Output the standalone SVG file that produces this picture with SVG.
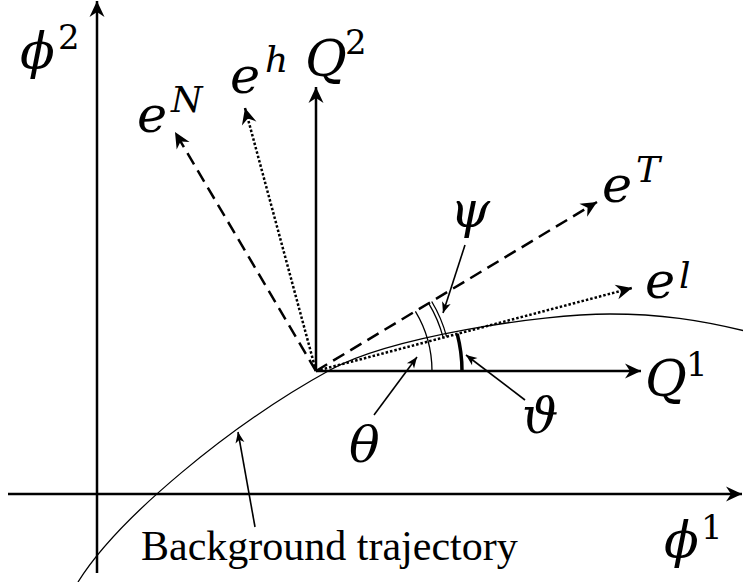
<svg xmlns="http://www.w3.org/2000/svg" width="743" height="582" viewBox="0 0 743 582">
<style>
.ax{fill:none;stroke:#000;stroke-width:2.5}
.dash{fill:none;stroke:#000;stroke-width:2.5;stroke-dasharray:13 7}
.dot{fill:none;stroke:#000;stroke-width:2.5;stroke-dasharray:2.5 2}
.thin{fill:none;stroke:#000;stroke-width:1.3}
.ptr{fill:none;stroke:#000;stroke-width:1.6}
.m{font-family:"DejaVu Serif",serif;font-style:italic;font-size:51px;fill:#000}
.s{font-family:"DejaVu Serif",serif;font-style:italic;font-size:36px;fill:#000}
.d{font-family:"DejaVu Serif",serif;font-size:34px;fill:#000}
.t{font-family:"Liberation Serif","Times New Roman",serif;font-size:42px;fill:#000}
</style>
<defs>
<marker id="big" markerUnits="userSpaceOnUse" markerWidth="20" markerHeight="20" viewBox="-17 -10 20 20" refX="0" refY="0" orient="auto" overflow="visible">
<path d="M0,0 L-16,-7.5 L-11,0 L-16,7.5 Z" fill="#000"/>
</marker>
<marker id="sm" markerUnits="userSpaceOnUse" markerWidth="14" markerHeight="14" viewBox="-12 -7 14 14" refX="0" refY="0" orient="auto" overflow="visible">
<path d="M0,0 L-11,-4.5 L-8,0 L-11,4.5 Z" fill="#000"/>
</marker>
</defs>

<g id="trajectory">
<path class="thin" d="M78,582 C118,518 230,425 330,370 C390,337 540,314 610,314 C660,314 700,320 745,331"/>
</g>

<g id="connectors">
<line id="phi1-axis" class="ax" x1="8" y1="494" x2="742" y2="494" marker-end="url(#big)"/>
<line id="phi2-axis" class="ax" x1="97" y1="573" x2="97" y2="1" marker-end="url(#big)"/>
<line id="Q1-axis" class="ax" x1="316" y1="371" x2="641" y2="371" marker-end="url(#big)"/>
<line id="Q2-axis" class="ax" x1="316" y1="371" x2="316" y2="87" marker-end="url(#big)"/>
<line id="eN" class="dash" x1="316" y1="371" x2="175" y2="132" marker-end="url(#big)"/>
<line id="eh" class="dot" x1="316" y1="371" x2="245" y2="108" marker-end="url(#big)"/>
<line id="eT" class="dash" x1="316" y1="371" x2="597" y2="202" marker-end="url(#big)"/>
<line id="el" class="dot" x1="316" y1="371" x2="632" y2="288" marker-end="url(#big)"/>
<path id="arc-theta" class="thin" d="M432,371 A116,116 0 0 0 415.4,311.3"/>
<path id="arc-psi-a" class="thin" d="M443.2,337.6 A131.5,131.5 0 0 0 428.7,303.3"/>
<path id="arc-psi-b" class="thin" d="M446.6,336.7 A135,135 0 0 0 431.7,301.5"/>
<path id="arc-vartheta" fill="none" stroke="#000" stroke-width="3.5" d="M462,371 A146,146 0 0 0 457.2,333.9"/>
<line id="ptr-psi" class="ptr" x1="465" y1="245" x2="443" y2="313" marker-end="url(#sm)"/>
<line id="ptr-theta" class="ptr" x1="374" y1="415" x2="417" y2="357" marker-end="url(#sm)"/>
<line id="ptr-vartheta" class="ptr" x1="525" y1="400" x2="466" y2="355" marker-end="url(#sm)"/>
<line id="ptr-bg" class="ptr" x1="255" y1="527" x2="238" y2="432" marker-end="url(#sm)"/>
</g>

<g id="label-phi2"><text class="m" x="20" y="68">ϕ</text><text class="d" x="58" y="49">2</text></g>
<g id="label-eN"><text class="m" x="137" y="132">e</text><text class="s" x="171" y="112">N</text></g>
<g id="label-eh"><text class="m" x="230" y="93">e</text><text class="s" x="265" y="72">h</text></g>
<g id="label-Q2"><text class="m" x="305" y="76">Q</text><text class="d" x="345" y="54">2</text></g>
<g id="label-eT"><text class="m" x="602" y="202">e</text><text class="s" x="636" y="182">T</text></g>
<g id="label-el"><text class="m" x="645" y="298">e</text><text class="s" x="679" y="288">l</text></g>
<g id="label-psi"><text class="m" x="450" y="227">ψ</text></g>
<g id="label-theta"><text class="m" x="349" y="462">θ</text></g>
<g id="label-vartheta"><text class="m" x="522" y="433">ϑ</text></g>
<g id="label-Q1"><text class="m" x="645" y="396">Q</text><text class="d" x="686" y="376">1</text></g>
<g id="label-phi1"><text class="m" x="664" y="557">ϕ</text><text class="d" x="701" y="539">1</text></g>
<g id="label-bg"><text class="t" x="141" y="560">Background trajectory</text></g>
</svg>
